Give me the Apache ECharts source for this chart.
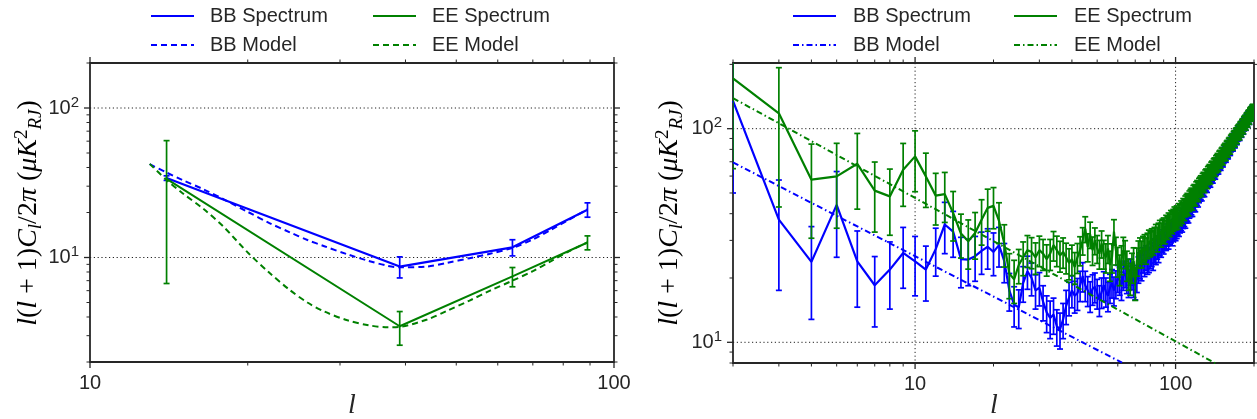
<!DOCTYPE html>
<html><head><meta charset="utf-8">
<script src="https://cdn.jsdelivr.net/npm/echarts@6/dist/echarts.min.js"></script>
<style>html,body{margin:0;padding:0;background:#fff}#c{width:1257px;height:419px}</style>
</head><body><div id="c"></div><script>
// ---------- LEFT PANEL DATA ----------
const leftL = [14, 39, 64, 89];
const leftBB = [34, 8.7, 11.7, 20.9];
const leftBBErr = [1.2, 1.4, 1.45, 2.3];
const leftEE = [33.6, 3.47, 7.47, 12.6];
const leftEEErr = [26.9, 0.88, 1.1, 1.35];
const leftModelL = [13, 14, 15, 16.5, 18, 20, 22, 24, 26, 28, 31, 34, 37, 39, 44, 48, 53, 58, 64, 70, 76, 82, 89];
const leftBBModel = [42.1, 37.0, 33.0, 28.5, 24.5, 20.2, 17.0, 14.8, 13.1, 11.9, 10.5, 9.5, 8.8, 8.6, 8.7, 9.2, 9.9, 10.6, 11.6, 13.2, 15.4, 17.9, 21.0];
const leftEEModel = [42.3, 33.0, 27.0, 21.0, 16.0, 10.8, 7.9, 6.1, 5.0, 4.35, 3.8, 3.52, 3.42, 3.44, 3.85, 4.4, 5.15, 6.0, 7.0, 8.1, 9.5, 11.0, 12.6];

// ---------- RIGHT PANEL DATA (l = 2 .. 199) ----------
const rL = []; for (let l = 2; l <= 199; l++) rL.push(l); // multipole index
const rBB = [
135,37.5,23.8,44,23.9,18.5,21.9,26.2,23.9,
21.9,27.3,35.6,33,24.5,24.4,25.3,26.8,28,26.5,
28.5,24,17.5,15,14.6,19,21.5,20,17.5,18,
15.5,13.8,13,13.5,11.9,11.5,12.8,14.8,16.2,17.5,
16.5,17,18.5,20.4,18.5,17.5,16.5,17.8,18.2,17,
15.8,17.2,18.5,17.3,16.5,18,19,17.5,18.8,20,
19.5,18.5,20.5,21,19.8,19,21.5,20.5,19,18.5,
20,22,23,22.5,24.4,23.5,25,24,24.5,25.5,
26,25,27,26.5,28,27,29,28.5,30,29.5,
31,30.5,32,31,32.5,33,32,33.5,34,33.7,
34.5,35.8,35.2,36.5,37.4,36.8,38.2,39,38.3,40.5,
41.2,40.4,42.5,43.1,44,43.2,45.5,46.1,45.3,47.8,
48.5,47.6,49.8,50.6,51.5,50.7,53,53.8,52.9,55.5,
56.2,55.3,57.8,58.6,59.3,58.4,61,61.8,60.9,63.5,
64.3,63.4,66,66.8,67.8,66.9,69.6,70.4,69.5,72.2,
73,72,74.8,75.7,76.6,75.6,78.5,79.3,78.3,81.3,
82.2,81.1,84.2,85.1,86,84.9,88,89,87.8,91,
92,90.8,94.1,95.1,96,94.8,98.2,99.3,98,101.5,
102.5,101.2,104.8,105.9,106.8,105.4,109.2,110.3,108.9,112.5,
113.6,112.2,116,117.1,118,116.5,120.3,121.4,120];
const rBBErr = [
85,20,11,19,9.3,6.7,7.6,8.3,7.4,
6.3,6.9,9.6,8,6.5,6,6,6,6,6,
6,5,3.5,3.2,3,3.6,3.8,3.5,3.2,3.2,
2.9,2.7,2.6,2.6,2.3,2.2,2.4,2.7,2.9,3,
2.8,2.9,3,3.2,3,2.8,2.7,2.9,2.9,2.7,
2.6,2.8,2.9,2.7,2.6,2.8,2.9,2.7,2.8,2.9,
2.9,2.8,3,3,2.9,2.8,3,2.9,2.8,2.7,
2.9,3.1,3.2,3.1,3.3,3.2,3.3,3.2,3.3,3.4,
3.4,3.3,3.5,3.4,3.5,3.4,3.6,3.5,3.6,3.6,
3.7,3.6,3.8,3.7,3.8,3.8,3.7,3.9,3.9,3.8,
3.9,4,3.9,4,4.1,4,4.1,4.2,4.1,4.3,
4.3,4.2,4.4,4.4,4.5,4.4,4.6,4.6,4.5,4.7,
4.7,4.6,4.8,4.8,4.9,4.8,5,5,4.9,5.1,
5.1,5,5.2,5.2,5.3,5.2,5.4,5.4,5.3,5.5,
5.5,5.4,5.6,5.6,5.7,5.6,5.8,5.8,5.7,5.9,
5.9,5.8,6,6,6.1,6,6.2,6.2,6.1,6.3,
6.3,6.2,6.4,6.4,6.5,6.4,6.6,6.6,6.5,6.7,
6.7,6.6,6.8,6.8,6.9,6.8,7,7,6.9,7.1,
7.1,7,7.2,7.2,7.3,7.2,7.4,7.4,7.3,7.5,
7.5,7.4,7.6,7.6,7.7,7.6,7.8,7.8,7.7];
const rEE = [
172,118,57.7,59.8,68.5,51.3,48.2,64.3,74.2,
59.8,48.6,49.4,40.3,32.3,29.7,32.5,37.5,42.6,43.5,
37,29,21,19.7,23,25,27,26.5,25,27,
26,24.5,26,28.5,27,25.5,26.5,25,23.5,24.5,
22.5,25,27,30,34,28,32,27,30,27.5,
26,29,26,25,27.5,23,25,33,27,24,
22,24.5,27,26,23,21,20,22.5,24,19,
24,26,27,26,27.5,28,27,28.5,29.5,29,
30,29.5,30.5,31.5,30.5,32,33,32,33.5,34,
33,35,34.5,36,35.5,37,36.5,37.5,38.5,38,
39,38.2,40,39.6,41.2,40.5,42.3,41.8,43.5,44.2,
44.8,44,46,46.8,47.5,46.6,48.9,49.5,48.6,51,
51.8,50.9,53,53.8,54.6,53.7,56,56.8,55.8,58.3,
59,58.1,60.5,61.3,62,61,63.6,64.4,63.4,66,
66.8,65.8,68.4,69.2,70.2,69.2,71.9,72.7,71.7,74.4,
75.2,74.1,77,77.8,78.7,77.6,80.5,81.3,80.2,83.2,
84,82.9,86,86.8,87.7,86.5,89.7,90.6,89.4,92.6,
93.5,92.3,95.6,96.5,97.4,96.1,99.5,100.5,99.2,102.6,
103.6,102.3,105.8,106.8,107.7,106.3,110,111,109.6,113.2,
114.2,112.8,116.5,117.5,118.4,116.9,120.6,121.6,120.3];
const rEEErr = [
107,75,27,25.6,26.5,18.5,16.5,21,23.5,
17,13.2,13,10.5,7.5,7.7,8,9,9.5,9.5,
8,6.5,5,4.5,4.2,4.5,4.6,4.4,4.2,4.4,
4.3,4.1,4.3,4.5,4.4,4.2,4.3,4.1,3.9,4,
3.8,4,4.2,4.4,4.7,4.2,4.5,4.1,4.3,4.1,
4,4.2,4,3.9,4.1,3.7,3.9,4.5,4,3.8,
3.6,3.8,4,3.9,3.7,3.5,3.4,3.6,3.7,3.3,
3.6,3.8,3.8,3.7,3.8,3.9,3.8,3.9,4,3.9,
4,3.9,4,4.1,4,4.1,4.2,4.1,4.2,4.2,
4.1,4.3,4.2,4.3,4.3,4.4,4.3,4.4,4.5,4.4,
4.5,4.4,4.6,4.5,4.7,4.6,4.8,4.7,4.9,4.9,
5,4.9,5.1,5.1,5.2,5.1,5.3,5.3,5.2,5.4,
5.4,5.3,5.5,5.5,5.6,5.5,5.7,5.7,5.6,5.8,
5.8,5.7,5.9,5.9,6,5.9,6.1,6.1,6,6.2,
6.2,6.1,6.3,6.3,6.4,6.3,6.5,6.5,6.4,6.6,
6.6,6.5,6.7,6.7,6.8,6.7,6.9,6.9,6.8,7,
7,6.9,7.1,7.1,7.2,7.1,7.3,7.3,7.2,7.4,
7.4,7.3,7.5,7.5,7.6,7.5,7.7,7.7,7.6,7.8,
7.8,7.7,7.9,7.9,8,7.9,8.1,8.1,8,8.2,
8.2,8.1,8.3,8.3,8.4,8.3,8.5,8.5,8.4];
const rBBModelL = [2, 10, 62.3];
const rBBModel = [69.5, 25.3, 8.03];
const rEEModelL = [2, 10, 100, 142];
const rEEModel = [139, 47.4, 10.1, 7.98];

// ---------- AXES / TICKS ----------
const xMajorL = [10, 100], xMinorL = [20, 30, 40, 50, 60, 70, 80, 90];
const yMajorL = [10, 100], yMinorL = [2, 3, 4, 5, 6, 7, 8, 9, 20, 30, 40, 50, 60, 70, 80, 90, 200];
const xMajorR = [10, 100], xMinorR = [2, 3, 4, 5, 6, 7, 8, 9, 20, 30, 40, 50, 60, 70, 80, 90, 200];
const yMajorR = [10, 100], yMinorR = [8, 9, 20, 30, 40, 50, 60, 70, 80, 90, 200];

const BLUE = '#0000ff', GREEN = '#008000', INK = '#262626';
const zip = (a, b) => a.map((v, i) => [v, b[i]]);
const zip3 = (a, b, c) => a.map((v, i) => [v, b[i], c[i]]);

function errRender(color) {
  return function (params, api) {
    const l = api.value(0), v = api.value(1), e = api.value(2);
    const lo = Math.max(v - e, 1e-3);
    const p1 = api.coord([l, v + e]);
    const p2 = api.coord([l, lo]);
    const st = { stroke: color, lineWidth: 1.7 };
    const c = 3;
    return { type: 'group', children: [
      { type: 'line', shape: { x1: p1[0], y1: p1[1], x2: p2[0], y2: p2[1] }, style: st },
      { type: 'line', shape: { x1: p1[0] - c, y1: p1[1], x2: p1[0] + c, y2: p1[1] }, style: st },
      { type: 'line', shape: { x1: p2[0] - c, y1: p2[1], x2: p2[0] + c, y2: p2[1] }, style: st }
    ]};
  };
}

function tickData(xMaj, xMin, yMaj, yMin, xRef, yRef, xGrid) {
  const d = [];
  xMaj.forEach(v => d.push([v, yRef, 0, 1, xGrid ? 1 : 0]));
  xMin.forEach(v => d.push([v, yRef, 0, 0, 0]));
  yMaj.forEach(v => d.push([xRef, v, 1, 1, 1]));
  yMin.forEach(v => d.push([xRef, v, 1, 0, 0]));
  return d;
}
function tickRender(params, api) {
  const cs = params.coordSys;
  const kind = api.value(2), major = api.value(3), grid = api.value(4);
  const p = api.coord([api.value(0), api.value(1)]);
  const len = major ? 6 : 3.5;
  const st = { stroke: INK, lineWidth: major ? 1.3 : 1 };
  const gs = { stroke: '#222', lineWidth: 1, lineDash: [1.2, 2.6] };
  const ch = [];
  if (kind === 0) {
    const x = p[0];
    ch.push({ type: 'line', shape: { x1: x, y1: cs.y + cs.height, x2: x, y2: cs.y + cs.height + len }, style: st });
    ch.push({ type: 'line', shape: { x1: x, y1: cs.y, x2: x, y2: cs.y - len }, style: st });
    if (grid) ch.push({ type: 'line', shape: { x1: x, y1: cs.y, x2: x, y2: cs.y + cs.height }, style: gs });
  } else {
    const y = p[1];
    if (y < cs.y - 0.5) return { type: 'group', children: [] };
    ch.push({ type: 'line', shape: { x1: cs.x, y1: y, x2: cs.x - len, y2: y }, style: st });
    ch.push({ type: 'line', shape: { x1: cs.x + cs.width, y1: y, x2: cs.x + cs.width + len, y2: y }, style: st });
    if (grid) ch.push({ type: 'line', shape: { x1: cs.x, y1: y, x2: cs.x + cs.width, y2: y }, style: gs });
  }
  return { type: 'group', children: ch };
}

const isPow10 = v => Math.abs(Math.log10(v) - Math.round(Math.log10(v))) < 1e-6;
const xLabel = { fontSize: 20, color: INK, fontFamily: 'Liberation Sans', margin: 11,
  formatter: v => isPow10(v) ? String(Math.round(v)) : '' };
const yLabel = { margin: 11, formatter: v => isPow10(v) ? '{b|10}{s|' + Math.round(Math.log10(v)) + '}' : '',
  rich: { b: { fontSize: 20, color: INK, fontFamily: 'Liberation Sans', lineHeight: 26 },
          s: { fontSize: 15, color: INK, fontFamily: 'Liberation Sans', lineHeight: 15, verticalAlign: 'top' } } };
const hidden = { axisLine: { show: false }, axisTick: { show: false }, splitLine: { show: false }, minorTick: { show: false } };

const mathRich = {
  i: { fontFamily: 'Liberation Serif', fontStyle: 'italic', fontSize: 28, color: INK, lineHeight: 32 },
  r: { fontFamily: 'Liberation Serif', fontSize: 28, color: INK, lineHeight: 32 },
  sub: { fontFamily: 'Liberation Serif', fontStyle: 'italic', fontSize: 19, color: INK, lineHeight: 19, verticalAlign: 'bottom' },
  sup: { fontFamily: 'Liberation Serif', fontSize: 19, color: INK, lineHeight: 19, verticalAlign: 'top' }
};
const yName = '{i|l}{r|(}{i|l}{r| + 1)}{i|C}{sub|l}{r|/2}{i|π}{r| (}{i|μK}{sup|2}{sub|RJ}{r|)}';

function legendCfg(left, names, pad, gap, w) {
  return { left: left, top: 6, padding: 0, width: 480, orient: 'horizontal', itemWidth: 43, itemHeight: 14, itemGap: gap,
    data: names, selectedMode: false, itemStyle: { opacity: 0 },
    textStyle: { fontSize: 20, color: INK, fontFamily: 'Liberation Sans', width: w, lineHeight: 14, padding: [0, 0, 0, pad] } };
}

const chart = echarts.init(document.getElementById('c'), null, { renderer: 'canvas' });
chart.setOption({
  animation: false,
  backgroundColor: '#fff',
  legend: [
    legendCfg(150, ['BB Spectrum', 'EE Spectrum', 'BB Model', 'EE Model'], 11, 9, 153),
    legendCfg(792, ['BB Spectrum ', 'EE Spectrum ', 'BB Model ', 'EE Model '], 12, 9, 151)
  ],
  grid: [
    { left: 90, top: 63, width: 524, height: 299, show: true, borderColor: INK, borderWidth: 1.8, backgroundColor: 'transparent' },
    { left: 733, top: 63, width: 522, height: 300, show: true, borderColor: INK, borderWidth: 1.8, backgroundColor: 'transparent' }
  ],
  xAxis: [
    Object.assign({ type: 'log', logBase: 10, gridIndex: 0, min: 10, max: 100, axisLabel: xLabel }, hidden),
    Object.assign({ type: 'log', logBase: 10, gridIndex: 1, min: 2, max: 200, axisLabel: xLabel }, hidden)
  ],
  yAxis: [
    Object.assign({ type: 'log', logBase: 10, gridIndex: 0, min: 2, max: 200, axisLabel: yLabel }, hidden),
    Object.assign({ type: 'log', logBase: 10, gridIndex: 1, min: 8, max: 203, axisLabel: yLabel }, hidden)
  ],
  graphic: [
    { type: 'text', x: 352, y: 406, style: { text: 'l', font: 'italic 28px "Liberation Serif"', fill: INK, align: 'center', verticalAlign: 'middle' } },
    { type: 'text', x: 994, y: 406, style: { text: 'l', font: 'italic 28px "Liberation Serif"', fill: INK, align: 'center', verticalAlign: 'middle' } },
    { type: 'text', x: 29, y: 213, rotation: Math.PI / 2, style: { text: yName, rich: mathRich, align: 'center', verticalAlign: 'middle' } },
    { type: 'text', x: 670, y: 213, rotation: Math.PI / 2, style: { text: yName, rich: mathRich, align: 'center', verticalAlign: 'middle' } }
  ],
  series: [
    { type: 'custom', name: '_ticksL', xAxisIndex: 0, yAxisIndex: 0, z: 1, silent: true, renderItem: tickRender,
      encode: { x: 0, y: 1 }, data: tickData(xMajorL, xMinorL, yMajorL, yMinorL, 10, 10, false) },
    { type: 'custom', name: '_ticksR', xAxisIndex: 1, yAxisIndex: 1, z: 1, silent: true, renderItem: tickRender,
      encode: { x: 0, y: 1 }, data: tickData(xMajorR, xMinorR, yMajorR, yMinorR, 10, 10, true) },

    // left panel
    { type: 'line', name: 'BB Spectrum', xAxisIndex: 0, yAxisIndex: 0, data: zip(leftL, leftBB), symbol: 'none', z: 3,
      lineStyle: { color: BLUE, width: 2.2 }, itemStyle: { color: BLUE } },
    { type: 'custom', name: '_bbErrL', xAxisIndex: 0, yAxisIndex: 0, z: 3, renderItem: errRender(BLUE), encode: { x: 0, y: 1 },
      data: zip3(leftL, leftBB, leftBBErr) },
    { type: 'line', name: 'EE Spectrum', xAxisIndex: 0, yAxisIndex: 0, data: zip(leftL, leftEE), symbol: 'none', z: 4,
      lineStyle: { color: GREEN, width: 2 }, itemStyle: { color: GREEN } },
    { type: 'custom', name: '_eeErrL', xAxisIndex: 0, yAxisIndex: 0, z: 4, renderItem: errRender(GREEN), encode: { x: 0, y: 1 },
      data: zip3(leftL, leftEE, leftEEErr) },
    { type: 'line', name: 'BB Model', xAxisIndex: 0, yAxisIndex: 0, data: zip(leftModelL, leftBBModel), symbol: 'none', z: 5, smooth: 0.3,
      lineStyle: { color: BLUE, width: 2, type: [6, 4] }, itemStyle: { color: BLUE } },
    { type: 'line', name: 'EE Model', xAxisIndex: 0, yAxisIndex: 0, data: zip(leftModelL, leftEEModel), symbol: 'none', z: 5, smooth: 0.3,
      lineStyle: { color: GREEN, width: 2, type: [6, 4] }, itemStyle: { color: GREEN } },

    // right panel
    { type: 'line', name: 'BB Spectrum ', xAxisIndex: 1, yAxisIndex: 1, data: zip(rL, rBB), symbol: 'none', z: 3,
      lineStyle: { color: BLUE, width: 2.2 }, itemStyle: { color: BLUE } },
    { type: 'custom', name: '_bbErrR', xAxisIndex: 1, yAxisIndex: 1, z: 3, clip: true, renderItem: errRender(BLUE), encode: { x: 0, y: 1 },
      data: zip3(rL, rBB, rBBErr) },
    { type: 'line', name: 'EE Spectrum ', xAxisIndex: 1, yAxisIndex: 1, data: zip(rL, rEE), symbol: 'none', z: 4,
      lineStyle: { color: GREEN, width: 2.2 }, itemStyle: { color: GREEN } },
    { type: 'custom', name: '_eeErrR', xAxisIndex: 1, yAxisIndex: 1, z: 4, clip: true, renderItem: errRender(GREEN), encode: { x: 0, y: 1 },
      data: zip3(rL, rEE, rEEErr) },
    { type: 'line', name: 'BB Model ', xAxisIndex: 1, yAxisIndex: 1, data: zip(rBBModelL, rBBModel), symbol: 'none', z: 5,
      lineStyle: { color: BLUE, width: 2, type: [6, 3, 1.5, 3] }, itemStyle: { color: BLUE } },
    { type: 'line', name: 'EE Model ', xAxisIndex: 1, yAxisIndex: 1, data: zip(rEEModelL, rEEModel), symbol: 'none', z: 5,
      lineStyle: { color: GREEN, width: 2, type: [6, 3, 1.5, 3] }, itemStyle: { color: GREEN } }
  ]
});
</script></body></html>
